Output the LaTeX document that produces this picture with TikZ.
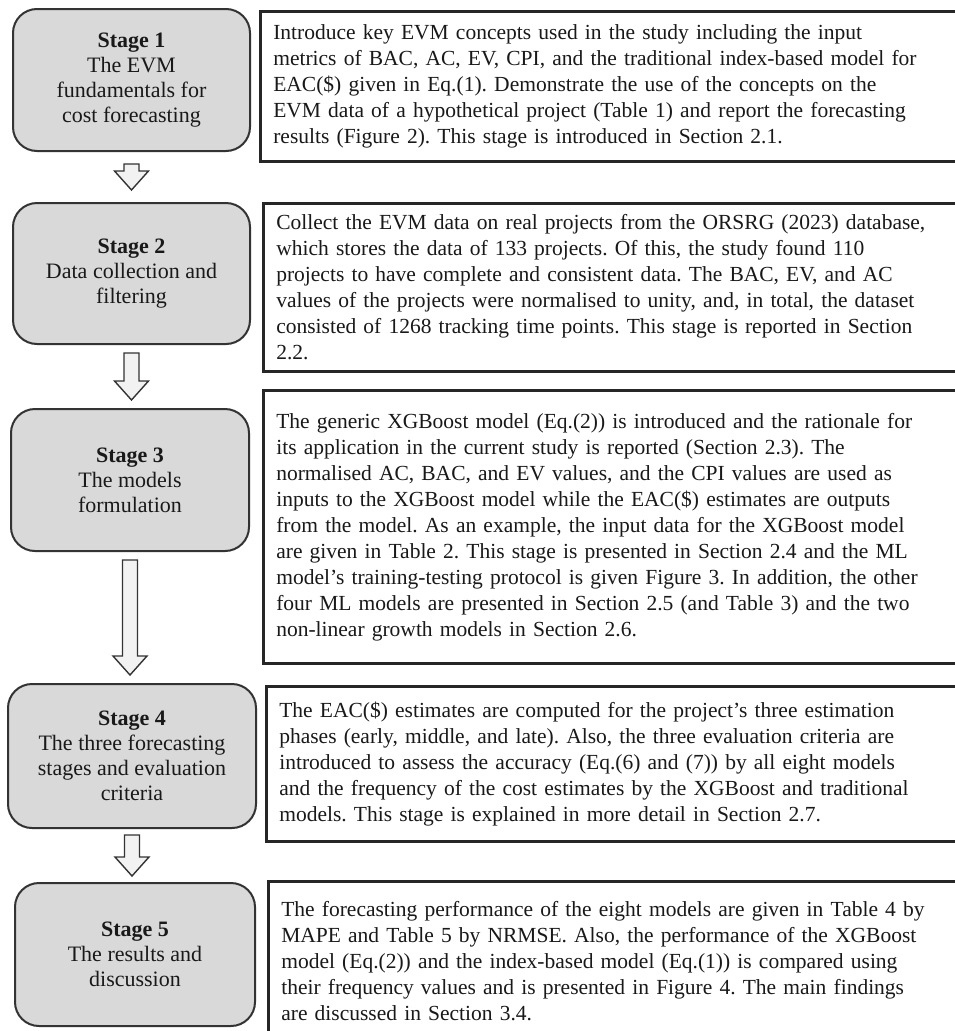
\documentclass[tikz,border=0pt]{standalone}
\usepackage{fontspec}
\setmainfont{Liberation Serif}
\usetikzlibrary{calc}
\frenchspacing

\begin{document}
\begin{tikzpicture}[x=1pt,y=-1pt,
    stagebox/.style={draw=black!80,line width=2pt,fill=gray!30,rounded corners=24pt,
      anchor=north west,align=center,inner sep=0pt,text=black!90,
      font=\fontsize{22}{25}\selectfont},
    notebox/.style={draw=black!85,line width=2.6pt,fill=white,anchor=north west,
      align=left,text width=690pt,inner xsep=13pt,inner ysep=0pt,text=black!90,
      font=\fontsize{21.5}{26}\selectfont},
    stagearrow/.style={draw=black!80,line width=1.4pt,fill=gray!10,line join=miter}]
    \useasboundingbox (0,0) rectangle (954,1031);

    % stages
    \node[stagebox,minimum width=237pt,minimum height=142pt] (s1) at (12,8)
      {\textbf{Stage 1}\\The EVM\\fundamentals for\\cost forecasting};
    \node[stagebox,minimum width=237pt,minimum height=141pt] (s2) at (12,202)
      {\textbf{Stage 2}\\Data collection and\\filtering};
    \node[stagebox,minimum width=238pt,minimum height=142pt] (s3) at (10,408)
      {\textbf{Stage 3}\\The models\\formulation};
    \node[stagebox,minimum width=248pt,minimum height=144pt] (s4) at (7,683)
      {\textbf{Stage 4}\\The three forecasting\\stages and evaluation\\criteria};
    \node[stagebox,minimum width=240pt,minimum height=143pt] (s5) at (14,882)
      {\textbf{Stage 5}\\The results and\\discussion};

    % descriptions
    \node[notebox,minimum height=150pt] (d1) at (259,10)
      {Introduce key EVM concepts used in the study including the input\\
       metrics of BAC, AC, EV, CPI, and the traditional index-based model for\\
       EAC(\$) given in Eq.(1). Demonstrate the use of the concepts on the\\
       EVM data of a hypothetical project (Table 1) and report the forecasting\\
       results (Figure 2). This stage is introduced in Section 2.1.};
    \node[notebox,minimum height=168pt] (d2) at (262,202)
      {Collect the EVM data on real projects from the ORSRG (2023) database,\\
       which stores the data of 133 projects. Of this, the study found 110\\
       projects to have complete and consistent data. The BAC, EV, and AC\\
       values of the projects were normalised to unity, and, in total, the dataset\\
       consisted of 1268 tracking time points. This stage is reported in Section\\
       2.2.};
    \node[notebox,minimum height=273pt] (d3) at (262,389)
      {The generic XGBoost model (Eq.(2)) is introduced and the rationale for\\
       its application in the current study is reported (Section 2.3). The\\
       normalised AC, BAC, and EV values, and the CPI values are used as\\
       inputs to the XGBoost model while the EAC(\$) estimates are outputs\\
       from the model. As an example, the input data for the XGBoost model\\
       are given in Table 2. This stage is presented in Section 2.4 and the ML\\
       model’s training-testing protocol is given Figure 3. In addition, the other\\
       four ML models are presented in Section 2.5 (and Table 3) and the two\\
       non-linear growth models in Section 2.6.};
    \node[notebox,minimum height=155pt] (d4) at (265,685)
      {The EAC(\$) estimates are computed for the project’s three estimation\\
       phases (early, middle, and late). Also, the three evaluation criteria are\\
       introduced to assess the accuracy (Eq.(6) and (7)) by all eight models\\
       and the frequency of the cost estimates by the XGBoost and traditional\\
       models. This stage is explained in more detail in Section 2.7.};
    \node[notebox,minimum height=160pt] (d5) at (267,880)
      {The forecasting performance of the eight models are given in Table 4 by\\
       MAPE and Table 5 by NRMSE. Also, the performance of the XGBoost\\
       model (Eq.(2)) and the index-based model (Eq.(1)) is compared using\\
       their frequency values and is presented in Figure 4. The main findings\\
       are discussed in Section 3.4.};

    % block arrows between the stages
    \foreach \a/\b/\g in {s1/s2/12,s2/s3/8,s3/s4/8,s4/s5/6}
      \draw[stagearrow] let \p1=(\a.south), \p2=(\b.north) in
        (\x1-7.5pt,\y1-\g pt) -- (\x1-7.5pt,\y2+\g pt+19pt) -- (\x1-17pt,\y2+\g pt+19pt)
        -- (\x1,\y2+\g pt) -- (\x1+17pt,\y2+\g pt+19pt) -- (\x1+7.5pt,\y2+\g pt+19pt)
        -- (\x1+7.5pt,\y1-\g pt) -- cycle;
\end{tikzpicture}
\end{document}
